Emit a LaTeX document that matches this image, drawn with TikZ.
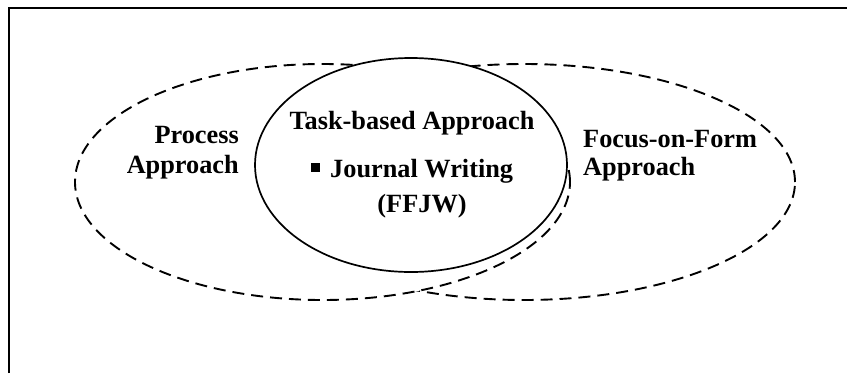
\documentclass[tikz,border=0pt]{standalone}
\usepackage{fontspec}
\setmainfont{Liberation Serif}
\usetikzlibrary{shapes.geometric}
\tikzset{
  approach/.style={ellipse, draw, fill=white, inner sep=0pt,
    line width=1.9pt, dash pattern=on 12pt off 7pt},
  taskzone/.style={ellipse, draw, fill=white, inner sep=0pt, line width=1.7pt},
  lbl/.style={inner sep=0pt, font=\fontsize{26.3}{30}\selectfont\bfseries},
  frameline/.style={line width=2pt}
}
\begin{document}
\begin{tikzpicture}[x=1pt,y=-1pt]
\useasboundingbox (0,0) rectangle (847,373);
% open frame: left and top edges
\coordinate (fbl) at (9,373);
\coordinate (ftl) at (9,8);
\coordinate (ftr) at (847,8);
\draw[frameline] (fbl) -- (ftl) -- (ftr);
% overlapping approaches, the task-based one on top
\node[approach, minimum width=542pt, minimum height=236pt] (ffa) at (524,182) {};
\node[approach, minimum width=495pt, minimum height=236pt] (proc) at (322.5,182) {};
\node[taskzone, minimum width=312pt, minimum height=214pt] (task) at (411,165) {};
% labels
\node[lbl, anchor=base east] (proc1) at (239,143) {Process};
\node[lbl, anchor=base east] (proc2) at (239,173) {Approach};
\node[lbl, anchor=base west] (ffa1) at (583,147) {Focus-on-Form};
\node[lbl, anchor=base west] (ffa2) at (583,175) {Approach};
\node[lbl, anchor=base] (tasklbl) at (412,129) {Task-based Approach};
\node[lbl, anchor=base west] (jw) at (311,177) {\rule[5pt]{9pt}{9pt}\hspace{10pt}Journal Writing};
\node[lbl, anchor=base] (ffjw) at (422,212) {(FFJW)};
\end{tikzpicture}
\end{document}
